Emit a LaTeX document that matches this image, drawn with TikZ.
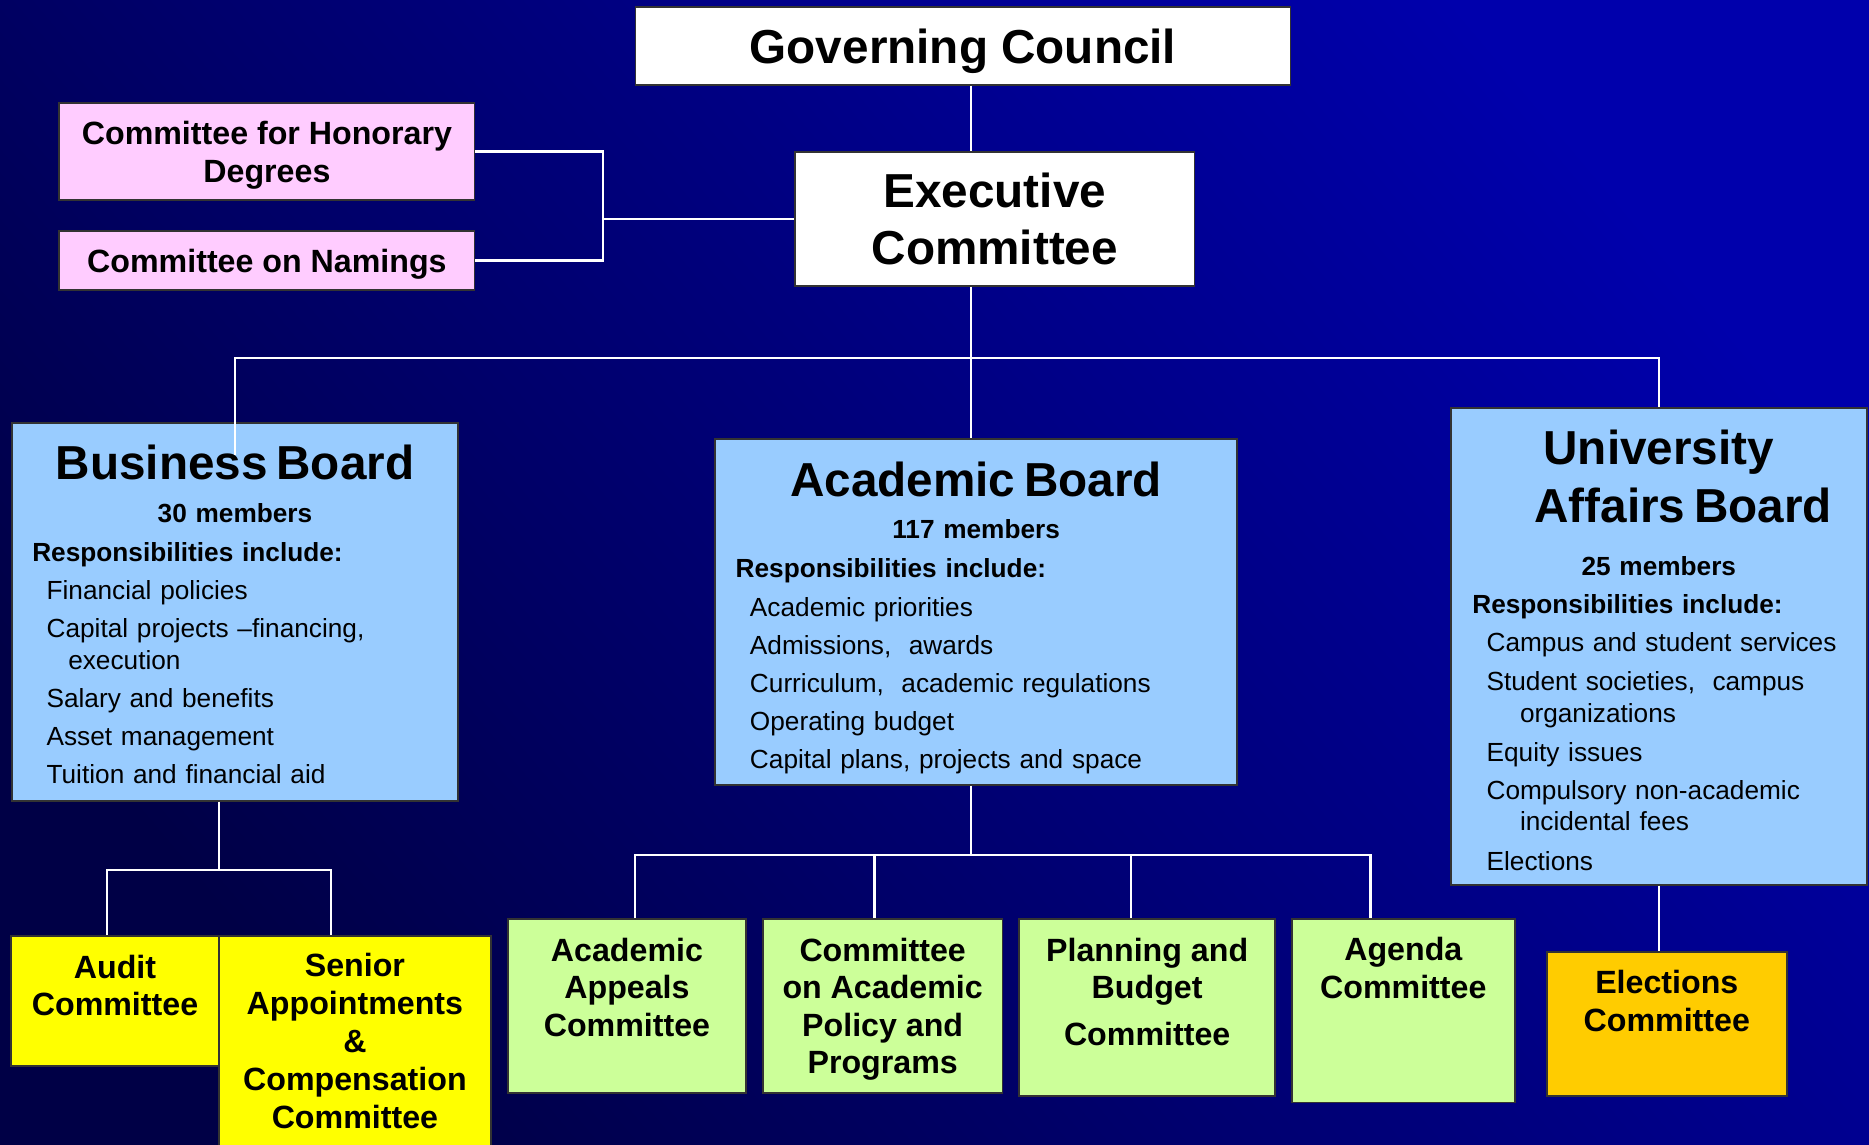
\documentclass[tikz,border=0pt]{standalone}
\usepackage{fontspec}
\setmainfont{Liberation Sans}
\usepackage{xcolor}
\usepackage{tikz}
\definecolor{bgdark}{RGB}{0,0,70}
\definecolor{bglight}{RGB}{0,0,172}
\definecolor{boardblue}{RGB}{153,204,255}
\definecolor{honpink}{RGB}{255,204,255}
\definecolor{subgreen}{RGB}{204,255,153}
\definecolor{subyellow}{RGB}{255,255,0}
\definecolor{elcorange}{RGB}{255,204,0}
\newcommand{\fsz}[2]{\fontsize{#1}{#2}\selectfont}
\tikzset{
  box/.style={rectangle, draw=black!80, line width=1.5pt, inner sep=0pt, align=center, font=\fsz{27}{31.5}\bfseries},
  board/.style={rectangle, draw=black!80, line width=1.5pt, fill=boardblue, inner sep=0pt, align=left, font=\fsz{22}{32}},
  link/.style={draw=white, line width=2pt},
}

\begin{document}
\begin{tikzpicture}[x=1pt, y=-1pt]
  \useasboundingbox (0,0) rectangle (1568,960);
  \clip (0,0) rectangle (1568,960);
  \shade[top color=bglight, bottom color=bgdark, shading angle=-50] (0,0) rectangle (1568,960);
  \node[box, fill=white, minimum width=549.4pt, text height=46.9pt, text depth=18.2pt, font=\fsz{40}{48}\bfseries] (gov) at (807.9,38.75) {Governing Council};
  \node[box, fill=white, minimum width=335.2pt, text height=94.5pt, text depth=18.3pt, font=\fsz{40}{48}\bfseries] (exec) at (834.6,183.6) {Executive\\Committee};
  \node[box, fill=honpink, minimum width=348.3pt, text height=66.2pt, text depth=14.9pt, font=\fsz{27}{31.5}\bfseries] (hon) at (223.95,127.25) {Committee for Honorary\\Degrees};
  \node[box, fill=honpink, minimum width=348.3pt, text height=34.7pt, text depth=14.8pt] (nam) at (223.95,218.55) {Committee on Namings};
  \node[board, text width=374.7pt, text height=47.3pt, text depth=269.4pt] (bus) at (197.15,513.35) {
    {\centering\fsz{40}{48}\bfseries Business\ Board\par}
    {\centering\fsz{22}{36.3}\bfseries 30 members\par}
    {\fsz{22}{32.7}\bfseries\hspace*{17.3pt}Responsibilities include:\par}
    \hspace*{29.3pt}Financial policies\par
    {\fsz{22}{31.2}\hspace*{29.3pt}Capital projects –financing,\\[-4pt]\hspace*{47.5pt}execution\par}
    \hspace*{29.3pt}Salary and benefits\par
    \hspace*{29.3pt}Asset management\par
    \hspace*{29.3pt}Tuition and financial aid\par};
  \node[board, text width=438.2pt, text height=48pt, text depth=241.9pt] (acad) at (818.9,513.55) {
    {\centering\fsz{40}{48}\bfseries Academic\ Board\par}
    {\centering\fsz{22}{35.5}\bfseries 117 members\par}
    {\fsz{22}{32.7}\bfseries\hspace*{17.4pt}Responsibilities include:\par}
    \hspace*{29.4pt}Academic priorities\par
    \hspace*{29.4pt}Admissions,\ \ awards\par
    \hspace*{29.4pt}Curriculum,\ \ academic regulations\par
    \hspace*{29.4pt}Operating budget\par
    \hspace*{29.4pt}Capital plans, projects and space\par};
  \node[board, text width=348.7pt, text height=47.6pt, text depth=352.6pt] (uab) at (1391.65,542.2) {
    {\centering\fsz{40}{49}\bfseries University\\\hspace*{41pt}Affairs\ Board\par}
    {\centering\fsz{22}{44.2}\bfseries 25 members\par}
    {\fsz{22}{32}\bfseries\hspace*{17.9pt}Responsibilities include:\par}
    \hspace*{29.9pt}Campus and student services\par
    {\fsz{22}{32.8}\hspace*{29.9pt}Student societies,\ \ campus\\[-6pt]\hspace*{57.9pt}organizations\par}
    \hspace*{29.9pt}Equity issues\par
    {\fsz{22}{32.3}\hspace*{29.9pt}Compulsory non-academic\\[-6pt]\hspace*{57.9pt}incidental fees\par}
    {\fsz{22}{32.8}\hspace*{29.9pt}Elections\par}};
  \node[box, fill=subyellow, minimum width=174pt, text height=67pt, text depth=42pt] (aud) at (96.5,839.5) {Audit\\Committee};
  \node[box, fill=subyellow, minimum width=228.5pt, text height=162pt, text depth=28pt, font=\fsz{27}{32}\bfseries] (sen) at (297.75,880) {Senior\\Appointments\\\&\\Compensation\\Committee};
  \node[box, fill=subgreen, minimum width=200pt, text height=98.5pt, text depth=47.2pt] (app) at (526,843.85) {Academic\\Appeals\\Committee};
  \node[box, fill=subgreen, minimum width=201pt, text height=130pt, text depth=15.7pt] (pol) at (740.5,843.85) {Committee\\on Academic\\Policy and\\Programs};
  \node[box, fill=subgreen, minimum width=214.8pt, text height=106.5pt, text depth=42pt] (plan) at (962.4,845.25) {Planning and\\Budget\\[8pt]Committee};
  \node[box, fill=subgreen, minimum width=187.4pt, text height=66.5pt, text depth=87.5pt] (agd) at (1177.3,848) {Agenda\\Committee};
  \node[box, fill=elcorange, minimum width=201.1pt, text height=67pt, text depth=54.1pt, font=\fsz{27}{32}\bfseries] (elc) at (1398.35,858.95) {Elections\\Committee};
  \coordinate (jx) at (506,183.6);
  \coordinate (t0) at (814.5,300.6);
  \coordinate (t1) at (814.5,717.3);
  \coordinate (busin) at (197.2,381.7);
  \coordinate (j2) at (183.5,730);
  \coordinate (ja) at (89.9,730);
  \coordinate (js) at (277.5,730);
  \coordinate (c1) at (532.5,717.3);
  \coordinate (c2) at (733.6,717.3);
  \coordinate (c3) at (948.6,717.3);
  \coordinate (c4) at (1149.8,717.3);
  \draw[link] (hon.east) -| (jx) |- (nam.east);
  \draw[link] (jx) -- (exec.west);
  \draw[link] (gov.south -| t0) -- (exec.north -| t0);
  \draw[link] (exec.south -| t0) -- (acad.north -| t0);
  \draw[link] (busin) |- (t0) -| (uab.north);
  \draw[link] (bus.south -| j2) -- (j2);
  \draw[link] (aud.north -| ja) -- (ja) -- (js) -- (sen.north -| js);
  \draw[link] (acad.south -| t1) -- (t1);
  \draw[link] (app.north -| c1) -- (c1) -- (c4) -- (agd.north -| c4);
  \draw[link] (pol.north -| c2) -- (c2);
  \draw[link] (plan.north -| c3) -- (c3);
  \draw[link] (uab.south) -- (elc.north -| uab.south);
\end{tikzpicture}
\end{document}
